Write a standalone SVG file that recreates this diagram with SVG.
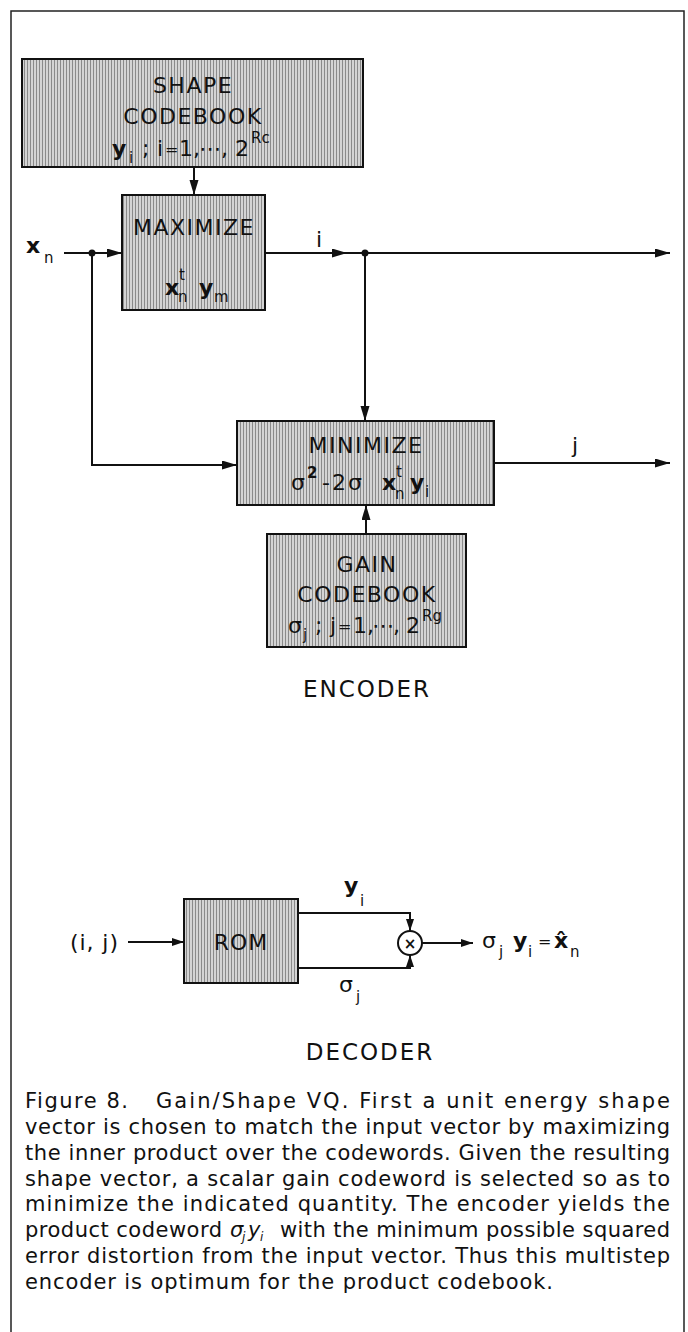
<svg xmlns="http://www.w3.org/2000/svg" width="688" height="1332" viewBox="0 0 688 1332">
<defs>
<pattern id="hatch" patternUnits="userSpaceOnUse" width="3" height="3">
<rect width="3" height="3" fill="#d4d4d4"/>
<rect width="1" height="3" fill="#8a8a8a"/>
</pattern>
<marker id="ah" markerUnits="userSpaceOnUse" markerWidth="16" markerHeight="10" refX="15" refY="4.5" orient="auto">
<path d="M0,0 L15,4.5 L0,9 z" fill="#111"/>
</marker>
<marker id="ahs" markerUnits="userSpaceOnUse" markerWidth="14" markerHeight="9" refX="12" refY="4" orient="auto">
<path d="M0,0 L12,4 L0,8 z" fill="#111"/>
</marker>
</defs>
<style>
.box{fill:url(#hatch);stroke:#111;stroke-width:2}
.t{font-family:"DejaVu Sans","Liberation Sans",sans-serif;fill:#111}
.lbl{font-size:22px;letter-spacing:1.5px;text-anchor:middle}
.m{font-size:22px}
.b{font-weight:bold}
.sub{font-size:15px}
.eq{font-size:16px}
.cap{font-size:21px}
.ln{fill:none;stroke:#111;stroke-width:2}
.dot{fill:#111}
</style>
<path d="M11,1332 V11 H684 V1332" fill="none" stroke="#222" stroke-width="1.5"/>

<g id="shape-codebook">
<rect class="box" x="22" y="59" width="341" height="108"/>
<text class="t lbl" x="193" y="93">SHAPE</text>
<text class="t lbl" x="193" y="124">CODEBOOK</text>
<text class="t m"><tspan class="b" x="112" y="156">y</tspan><tspan class="sub" x="129" y="163">i</tspan><tspan x="142" y="156">;</tspan><tspan x="157" y="156">i</tspan><tspan class="eq" x="165" y="155">=</tspan><tspan x="179" y="156">1,</tspan><tspan x="199" y="156">⋯</tspan><tspan x="221" y="156">,</tspan><tspan x="235" y="156">2</tspan><tspan class="sub" x="251" y="143">Rc</tspan></text>
</g>

<g id="maximize">
<rect class="box" x="122" y="195" width="143" height="115"/>
<text class="t lbl" x="194" y="235">MAXIMIZE</text>
<text class="t m"><tspan class="b" x="165" y="295">x</tspan><tspan class="sub" x="179" y="280">t</tspan><tspan class="sub" x="178" y="302">n</tspan><tspan class="b" x="199" y="295">y</tspan><tspan class="sub" x="214" y="302">m</tspan></text>
</g>

<g id="minimize">
<rect class="box" x="237" y="421" width="257" height="84"/>
<text class="t lbl" x="366" y="453">MINIMIZE</text>
<text class="t m"><tspan x="291" y="490">σ</tspan><tspan class="sub b" x="307" y="478">2</tspan><tspan x="322" y="490">-</tspan><tspan x="332" y="490">2</tspan><tspan x="348" y="490">σ</tspan><tspan class="b" x="382" y="490">x</tspan><tspan class="sub" x="396" y="477">t</tspan><tspan class="sub" x="395" y="499">n</tspan><tspan class="b" x="410" y="490">y</tspan><tspan class="sub" x="425" y="497">i</tspan></text>
</g>

<g id="gain-codebook">
<rect class="box" x="267" y="534" width="199" height="113"/>
<text class="t lbl" x="367" y="572">GAIN</text>
<text class="t lbl" x="367" y="602">CODEBOOK</text>
<text class="t m"><tspan x="288" y="633">σ</tspan><tspan class="sub" x="303" y="640">j</tspan><tspan x="315" y="633">;</tspan><tspan x="330" y="633">j</tspan><tspan class="eq" x="338" y="632">=</tspan><tspan x="353" y="633">1,</tspan><tspan x="372" y="633">⋯</tspan><tspan x="393" y="633">,</tspan><tspan x="406" y="633">2</tspan><tspan class="sub" x="422" y="621">Rg</tspan></text>
</g>

<g id="encoder-title">
<text class="t" x="367" y="697" font-size="23" letter-spacing="2" text-anchor="middle">ENCODER</text>
</g>

<g id="encoder-labels">
<text class="t m"><tspan class="b" x="26" y="253">x</tspan><tspan class="sub" x="44" y="263">n</tspan></text>
<text class="t m" x="319" y="247" text-anchor="middle">i</text>
<text class="t m" x="575" y="453" text-anchor="middle">j</text>
</g>

<g id="rom">
<rect class="box" x="184" y="899" width="114" height="84"/>
<text class="t" x="241" y="950" font-size="22" letter-spacing="1" text-anchor="middle">ROM</text>
</g>

<g id="multiplier">
<circle cx="410" cy="943" r="12" fill="#fff" stroke="#111" stroke-width="2"/>
<text class="t b" x="410" y="949" font-size="15" text-anchor="middle">×</text>
</g>

<g id="decoder-labels">
<text class="t" x="70" y="950" font-size="22" textLength="48" lengthAdjust="spacing">(i, j)</text>
<text class="t m"><tspan class="b" x="344" y="893">y</tspan><tspan class="sub" x="360" y="906">i</tspan></text>
<text class="t m"><tspan x="339" y="992">σ</tspan><tspan class="sub" x="356" y="1002">j</tspan></text>
<text class="t m"><tspan x="482" y="948">σ</tspan><tspan class="sub" x="499" y="957">j</tspan><tspan class="b" x="513" y="948">y</tspan><tspan class="sub" x="528" y="957">i</tspan><tspan class="eq" x="538" y="947">=</tspan><tspan class="b" x="554" y="948">x̂</tspan><tspan class="sub" x="570" y="957">n</tspan></text>
</g>

<g id="decoder-title">
<text class="t" x="370" y="1060" font-size="23" letter-spacing="2" text-anchor="middle">DECODER</text>
</g>

<g id="connectors">
<path class="ln" d="M194,167 V195" marker-end="url(#ah)"/>
<path class="ln" d="M64,253 H122" marker-end="url(#ah)"/>
<path class="ln" d="M92,253 V465 H237" marker-end="url(#ah)"/>
<path class="ln" d="M265,253 H347" marker-end="url(#ah)"/>
<path class="ln" d="M345,253 H670" marker-end="url(#ah)"/>
<path class="ln" d="M365,253 V421" marker-end="url(#ah)"/>
<path class="ln" d="M494,463 H670" marker-end="url(#ah)"/>
<path class="ln" d="M366,534 V505" marker-end="url(#ah)"/>
<circle class="dot" cx="92" cy="253" r="3.5"/>
<circle class="dot" cx="365" cy="253" r="3.5"/>
<path class="ln" d="M128,942 H184" marker-end="url(#ahs)"/>
<path class="ln" d="M298,913 H410 V931" marker-end="url(#ahs)"/>
<path class="ln" d="M298,968 H410 V955" marker-end="url(#ahs)"/>
<path class="ln" d="M422,943 H473" marker-end="url(#ahs)"/>
</g>

<g id="caption">
<text class="t cap" x="25" y="1108" textLength="103" lengthAdjust="spacing">Figure 8.</text>
<text class="t cap" x="156" y="1108" textLength="514" lengthAdjust="spacing">Gain/Shape VQ. First a unit energy shape</text>
<text class="t cap" x="25" y="1134" textLength="645" lengthAdjust="spacing">vector is chosen to match the input vector by maximizing</text>
<text class="t cap" x="25" y="1160" textLength="645" lengthAdjust="spacing">the inner product over the codewords. Given the resulting</text>
<text class="t cap" x="25" y="1186" textLength="645" lengthAdjust="spacing">shape vector, a scalar gain codeword is selected so as to</text>
<text class="t cap" x="25" y="1211" textLength="645" lengthAdjust="spacing">minimize the indicated quantity. The encoder yields the</text>
<text class="t cap" x="25" y="1237" textLength="197" lengthAdjust="spacing">product codeword</text>
<text class="t cap" font-style="italic"><tspan x="230" y="1237">σ</tspan><tspan x="242" y="1241" font-size="12">j</tspan><tspan x="248" y="1237">y</tspan><tspan x="260" y="1241" font-size="12">i</tspan></text>
<text class="t cap" x="280" y="1237" textLength="390" lengthAdjust="spacing">with the minimum possible squared</text>
<text class="t cap" x="25" y="1263" textLength="645" lengthAdjust="spacing">error distortion from the input vector. Thus this multistep</text>
<text class="t cap" x="25" y="1289" textLength="528" lengthAdjust="spacing">encoder is optimum for the product codebook.</text>
</g>
</svg>
